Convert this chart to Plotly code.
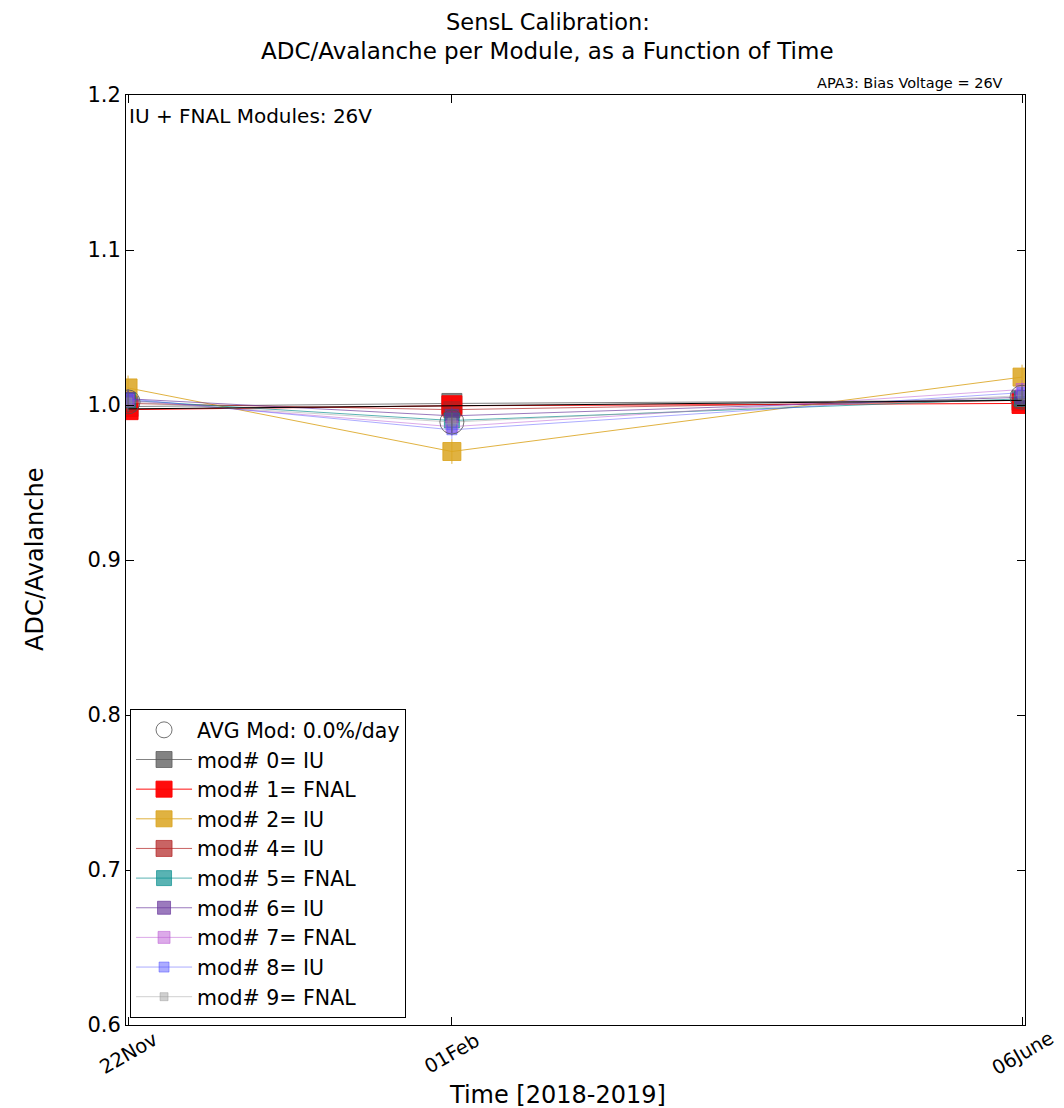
import plotly.graph_objects as go

# Data
dates = ["22Nov", "01Feb", "06June"]
days = [0, 71, 196]  # days since 22 Nov 2018

mod_names = ["mod# 0= IU", "mod# 1= FNAL", "mod# 2= IU", "mod# 4= IU", "mod# 5= FNAL",
             "mod# 6= IU", "mod# 7= FNAL", "mod# 8= IU", "mod# 9= FNAL"]
mod0 = [0.999, 1.001, 1.003]
mod1 = [0.997, 0.9995, 1.001]
mod2 = [1.011, 0.970, 1.018]
mod4 = [1.001, 0.997, 1.003]
mod5 = [1.003, 0.990, 1.004]
mod6 = [1.004, 0.993, 1.005]
mod7 = [1.003, 0.986, 1.010]
mod8 = [1.004, 0.984, 1.008]
mod9 = [1.002, 0.989, 1.006]
mod_errs = [0.004, 0.004, 0.008, 0.005, 0.005, 0.006, 0.006, 0.006, 0.006]

avg = [1.002, 0.989, 1.005]
avg_err = [0.007, 0.007, 0.007]
fit_line = [0.9975, 1.003]
fit_days = [0, 196]

yticks = [0.6, 0.7, 0.8, 0.9, 1.0, 1.1, 1.2]
ytick_labels = ["0.6", "0.7", "0.8", "0.9", "1.0", "1.1", "1.2"]

series = [mod0, mod1, mod2, mod4, mod5, mod6, mod7, mod8, mod9]
colors = ["rgba(90,90,90,0.75)", "rgba(255,0,0,0.95)", "rgba(218,165,32,0.85)",
          "rgba(178,34,34,0.7)", "rgba(0,139,139,0.65)", "rgba(102,51,153,0.65)",
          "rgba(186,85,211,0.5)", "rgba(70,70,255,0.45)", "rgba(150,150,150,0.45)"]
sizes = [20, 20, 18, 16, 15, 13, 12, 10, 8]

FONT = "DejaVu Sans"
fig = go.Figure()

for i, (name, vals) in enumerate(zip(mod_names, series)):
    fig.add_trace(go.Scatter(
        x=days, y=vals, name=name, mode="lines+markers",
        line=dict(color=colors[i], width=1),
        marker=dict(symbol="square", size=sizes[i], color=colors[i],
                    line=dict(color=colors[i], width=1)),
        error_y=dict(type="constant", value=mod_errs[i], color=colors[i], thickness=1, width=0),
        legendrank=i + 2,
    ))

fig.add_trace(go.Scatter(
    x=fit_days, y=fit_line, mode="lines", showlegend=False,
    line=dict(color="black", width=1),
))

fig.add_trace(go.Scatter(
    x=days, y=avg, name="AVG Mod: 0.0%/day", mode="markers",
    marker=dict(symbol="circle-open", size=24, color="rgba(80,80,80,0.8)", line=dict(width=1)),
    error_y=dict(type="data", array=avg_err, color="rgba(80,80,80,0.8)", thickness=1, width=0),
    legendrank=1,
))

fig.update_layout(
    width=1056, height=1100,
    margin=dict(l=118, r=39, t=87, b=83),
    paper_bgcolor="white", plot_bgcolor="white",
    font=dict(family=FONT, color="black", size=16),
    legend=dict(x=0.0045, y=0.0075, xanchor="left", yanchor="bottom",
                bgcolor="white", bordercolor="black", borderwidth=1,
                font=dict(size=20.5, family=FONT), itemwidth=56),
    showlegend=True,
)

fig.update_xaxes(
    range=[-0.45, 196.65], tickvals=days, ticktext=["", "", ""],
    ticks="inside", ticklen=8, tickcolor="black", mirror="allticks",
    showline=True, linecolor="black", linewidth=1, showgrid=False, zeroline=False,
)
fig.update_yaxes(
    range=[0.6, 1.2], tickvals=yticks, ticktext=ytick_labels,
    ticks="inside", ticklen=8, tickcolor="black", mirror="allticks",
    showline=True, linecolor="black", linewidth=1, showgrid=False, zeroline=False,
    tickfont=dict(size=21, family=FONT),
)

# Rotated, centred x tick labels
for d, lab in zip(days, dates):
    fig.add_annotation(text=lab, x=d, xref="x", y=0, yref="paper", yshift=-28,
                       xanchor="center", yanchor="middle", textangle=-30, showarrow=False,
                       font=dict(size=19.5, family=FONT))

# Titles
fig.add_annotation(text="SensL Calibration:", xref="paper", yref="paper", x=0.469, y=1,
                   yshift=73, xanchor="center", yanchor="middle", showarrow=False, borderpad=0,
                   font=dict(size=22.5, family=FONT))
fig.add_annotation(text="ADC/Avalanche per Module, as a Function of Time", xref="paper", yref="paper",
                   x=0.469, y=1, yshift=44, xanchor="center", yanchor="middle", showarrow=False,
                   borderpad=0, font=dict(size=23, family=FONT))
fig.add_annotation(text="Time [2018-2019]", xref="paper", yref="paper", x=0.48, y=0,
                   yshift=-70, xanchor="center", yanchor="middle", showarrow=False,
                   font=dict(size=24, family=FONT))
fig.add_annotation(text="ADC/Avalanche", xref="paper", yref="paper", x=0, y=0.5,
                   xshift=-91, xanchor="center", yanchor="middle", textangle=-90, showarrow=False,
                   font=dict(size=24, family=FONT))

fig.add_annotation(text="IU + FNAL Modules: 26V", xref="paper", yref="paper",
                   x=0.0, y=1.0, xanchor="left", yanchor="top", showarrow=False,
                   xshift=1, yshift=-7, font=dict(size=20, family=FONT))
fig.add_annotation(text="APA3: Bias Voltage = 26V", xref="paper", yref="paper",
                   x=(910 - 126) / 899, y=1.0, xanchor="center", yanchor="middle", showarrow=False,
                   yshift=12, font=dict(size=14.5, family=FONT))

fig.write_html("out.html")
